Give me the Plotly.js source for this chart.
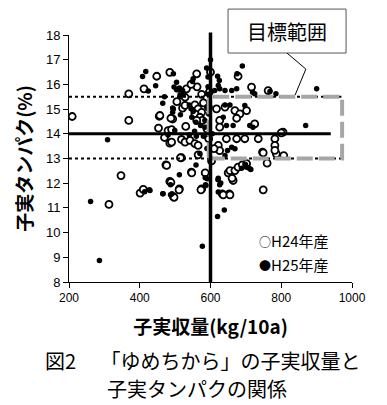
<!DOCTYPE html>
<html><head><meta charset="utf-8">
<script src="https://cdn.plot.ly/plotly-3.0.1.min.js"></script>
<style>html,body{margin:0;padding:0;background:#fff}#c{width:387px;height:405px}</style>
</head><body><div id="c"></div>
<script>
// H24 (open circles): yield kg/10a, protein %
const h24Yield = [209,369,369,448,412,455,453,485,493,485,561,532,528,521,528,556,565,575,556,570,577,561,457,488,480,490,490,518,528,542,556,565,565,518,474,546,485,512,495,575,401,410,347,313,497,511,488,476,547,515,585,573,633,653,664,650,749,760,747,786,716,763,678,594,617,641,669,683,702,674,626,626,725,805,645,674,697,735,782,800,782,782,749,622,626,655,669,678,690,702,661,636,655,807,562,575,590,580,597,545,600,590,595,610,603,530,505,470];
const h24Protein = [14.7,15.62,14.54,16.33,15.82,14.71,14.23,13.62,14.6,16.49,16.43,15.82,15.48,15.04,15.15,15.17,15.01,14.87,14.81,14.67,14.54,14.54,14.74,14.63,14.13,14.17,13.66,13.77,13.66,13.73,13.6,13.53,13.15,13.03,12.74,12.45,12.07,11.77,11.46,11.77,11.6,11.75,12.31,11.14,11.43,11.73,12.03,12.72,12.42,13.03,12.42,11.73,11.57,11.57,12.11,12.42,11.73,12.81,13.26,13.19,15.89,15.75,16.33,15.08,15.01,15.08,14.94,14.81,14.94,14.63,14.54,14.27,14.4,14.07,13.8,13.8,13.8,13.8,13.8,14.04,13.53,13.33,13.23,13.53,13.32,12.51,12.51,12.65,12.74,12.79,12.2,11.53,11.53,13.12,15.9,15.6,15.45,15.25,15.7,16.0,16.5,14.2,13.8,13.4,12.9,14.3,15.3,13.85];
// H25 (filled dots)
const h25Yield = [309,408,417,424,465,495,495,504,509,514,589,497,504,512,514,521,551,549,523,493,540,545,551,547,559,572,584,584,493,499,515,261,286,577,620,639,414,427,466,491,487,512,559,585,586,591,587,621,626,714,699,690,675,620,625,622,593,593,593,612,626,641,660,674,719,725,768,785,641,655,697,636,645,664,711,720,660,669,648,641,688,702,711,622,629,622,900,869,465,487,429,590,595,590,580,570,600,605,540,560,555,470,445,480];
const h25Protein = [13.76,16.32,16.52,15.73,15.24,15.0,16.43,16.09,15.78,15.51,16.66,15.89,15.78,15.85,15.58,15.75,16.23,16.12,15.58,15.04,15.17,15.01,14.9,14.67,14.47,14.34,14.54,14.27,14.87,14.13,14.77,11.26,8.87,9.45,10.65,10.92,11.65,11.73,11.57,11.57,11.94,12.34,12.74,12.22,11.94,12.18,11.91,12.14,11.94,12.55,12.76,16.74,16.43,16.33,16.16,15.96,16.3,15.9,15.6,15.75,15.82,15.75,15.75,15.82,15.68,15.62,15.71,15.62,15.17,15.17,15.15,14.67,14.34,14.34,14.34,14.27,13.46,13.39,13.32,13.12,12.61,12.65,12.58,12.2,12.01,11.64,15.82,14.34,11.57,11.53,11.7,13.4,14.8,15.1,13.9,13.2,17.0,14.0,13.95,13.9,14.1,15.5,15.95,13.95];
// reference lines
const avgYield = 600, avgProtein = 14.0;
const targetProteinHigh = 15.5, targetProteinLow = 13.0;
const xTicks = [200,400,600,800,1000];
const yTicks = [8,9,10,11,12,13,14,15,16,17,18];
const seriesNames = ['H24年産','H25年産'];

const jp = '"Noto Sans CJK JP", sans-serif';
const sans = '"Liberation Sans", Arial, sans-serif';

const traces = [
  {x:h24Yield, y:h24Protein, type:'scatter', mode:'markers', name:seriesNames[0],
   marker:{symbol:'circle', size:7, color:'#fff', line:{color:'#000', width:1.8}}},
  {x:h25Yield, y:h25Protein, type:'scatter', mode:'markers', name:seriesNames[1],
   marker:{symbol:'circle', size:5.5, color:'#000', line:{width:0}}}
];

const layout = {
  width:387, height:405, showlegend:false,
  margin:{l:69, r:35, t:35, b:123},
  paper_bgcolor:'#fff', plot_bgcolor:'#fff',
  xaxis:{range:[200,1000], tickvals:xTicks, ticktext:xTicks.map(String), showgrid:false, zeroline:false,
    showline:true, linecolor:'#000', linewidth:1, ticks:'outside', ticklen:5, tickcolor:'#000',
    tickfont:{family:sans, size:12, color:'#000'},
    title:{text:'<b>子実収量(kg/10a)</b>', font:{family:jp, size:19, color:'#000'}, standoff:16}},
  yaxis:{range:[8,18], tickvals:yTicks, ticktext:yTicks.map(String), showgrid:false, zeroline:false,
    showline:true, linecolor:'#000', linewidth:1, ticks:'outside', ticklen:5, tickcolor:'#000',
    tickfont:{family:sans, size:13, color:'#000'},
    title:{text:'<b>子実タンパク(%)</b>', font:{family:jp, size:19, color:'#000'}, standoff:8}},
  shapes:[
    {type:'line', xref:'x', yref:'y', x0:200, x1:970, y0:targetProteinHigh, y1:targetProteinHigh, line:{color:'#000', width:2, dash:'dot'}, layer:'above'},
    {type:'line', xref:'x', yref:'y', x0:200, x1:970, y0:targetProteinLow, y1:targetProteinLow, line:{color:'#000', width:2, dash:'dot'}, layer:'above'},
    {type:'rect', xref:'x', yref:'y', x0:595, x1:972, y0:targetProteinLow, y1:targetProteinHigh, line:{color:'#a6a6a6', width:4, dash:'16px,6px'}, layer:'above'},
    {type:'line', xref:'x', yref:'y', x0:200, x1:940, y0:avgProtein, y1:avgProtein, line:{color:'#000', width:3}, layer:'above'},
    {type:'line', xref:'x', yref:'paper', x0:avgYield, x1:avgYield, y0:0, y1:1.01, line:{color:'#000', width:3.5}, layer:'above'},
    {type:'rect', xref:'paper', yref:'paper', x0:0.562, x1:0.979, y0:0.927, y1:1.105, line:{color:'#555', width:1}, fillcolor:'#fff', layer:'above'},
    {type:'path', xref:'paper', yref:'paper', path:'M 0.770 0.927 L 0.837 0.862 L 0.799 0.757', line:{color:'#000', width:1}, layer:'above'}
  ],
  annotations:[
    {xref:'paper', yref:'paper', x:0.770, y:1.016, xanchor:'center', yanchor:'middle', text:'目標範囲', showarrow:false, font:{family:jp, size:20, color:'#000'}},
    {xref:'paper', yref:'paper', x:0.665, y:0.170, xanchor:'left', yanchor:'middle', text:'<span style="font-size:12px">○</span>H24年産', showarrow:false, font:{family:jp, size:15, color:'#000'}},
    {xref:'paper', yref:'paper', x:0.665, y:0.069, xanchor:'left', yanchor:'middle', text:'<span style="font-size:12px">●</span>H25年産', showarrow:false, font:{family:jp, size:15, color:'#000'}},
    {xref:'paper', yref:'paper', x:-0.092, y:-0.316, xanchor:'left', yanchor:'middle', text:'図2　 「ゆめちから」の子実収量と', showarrow:false, font:{family:jp, size:20, color:'#000'}},
    {xref:'paper', yref:'paper', x:0.127, y:-0.433, xanchor:'left', yanchor:'middle', text:'子実タンパクの関係', showarrow:false, font:{family:jp, size:20, color:'#000'}}
  ]
};
Plotly.newPlot('c', traces, layout, {displayModeBar:false, staticPlot:true});
</script></body></html>
